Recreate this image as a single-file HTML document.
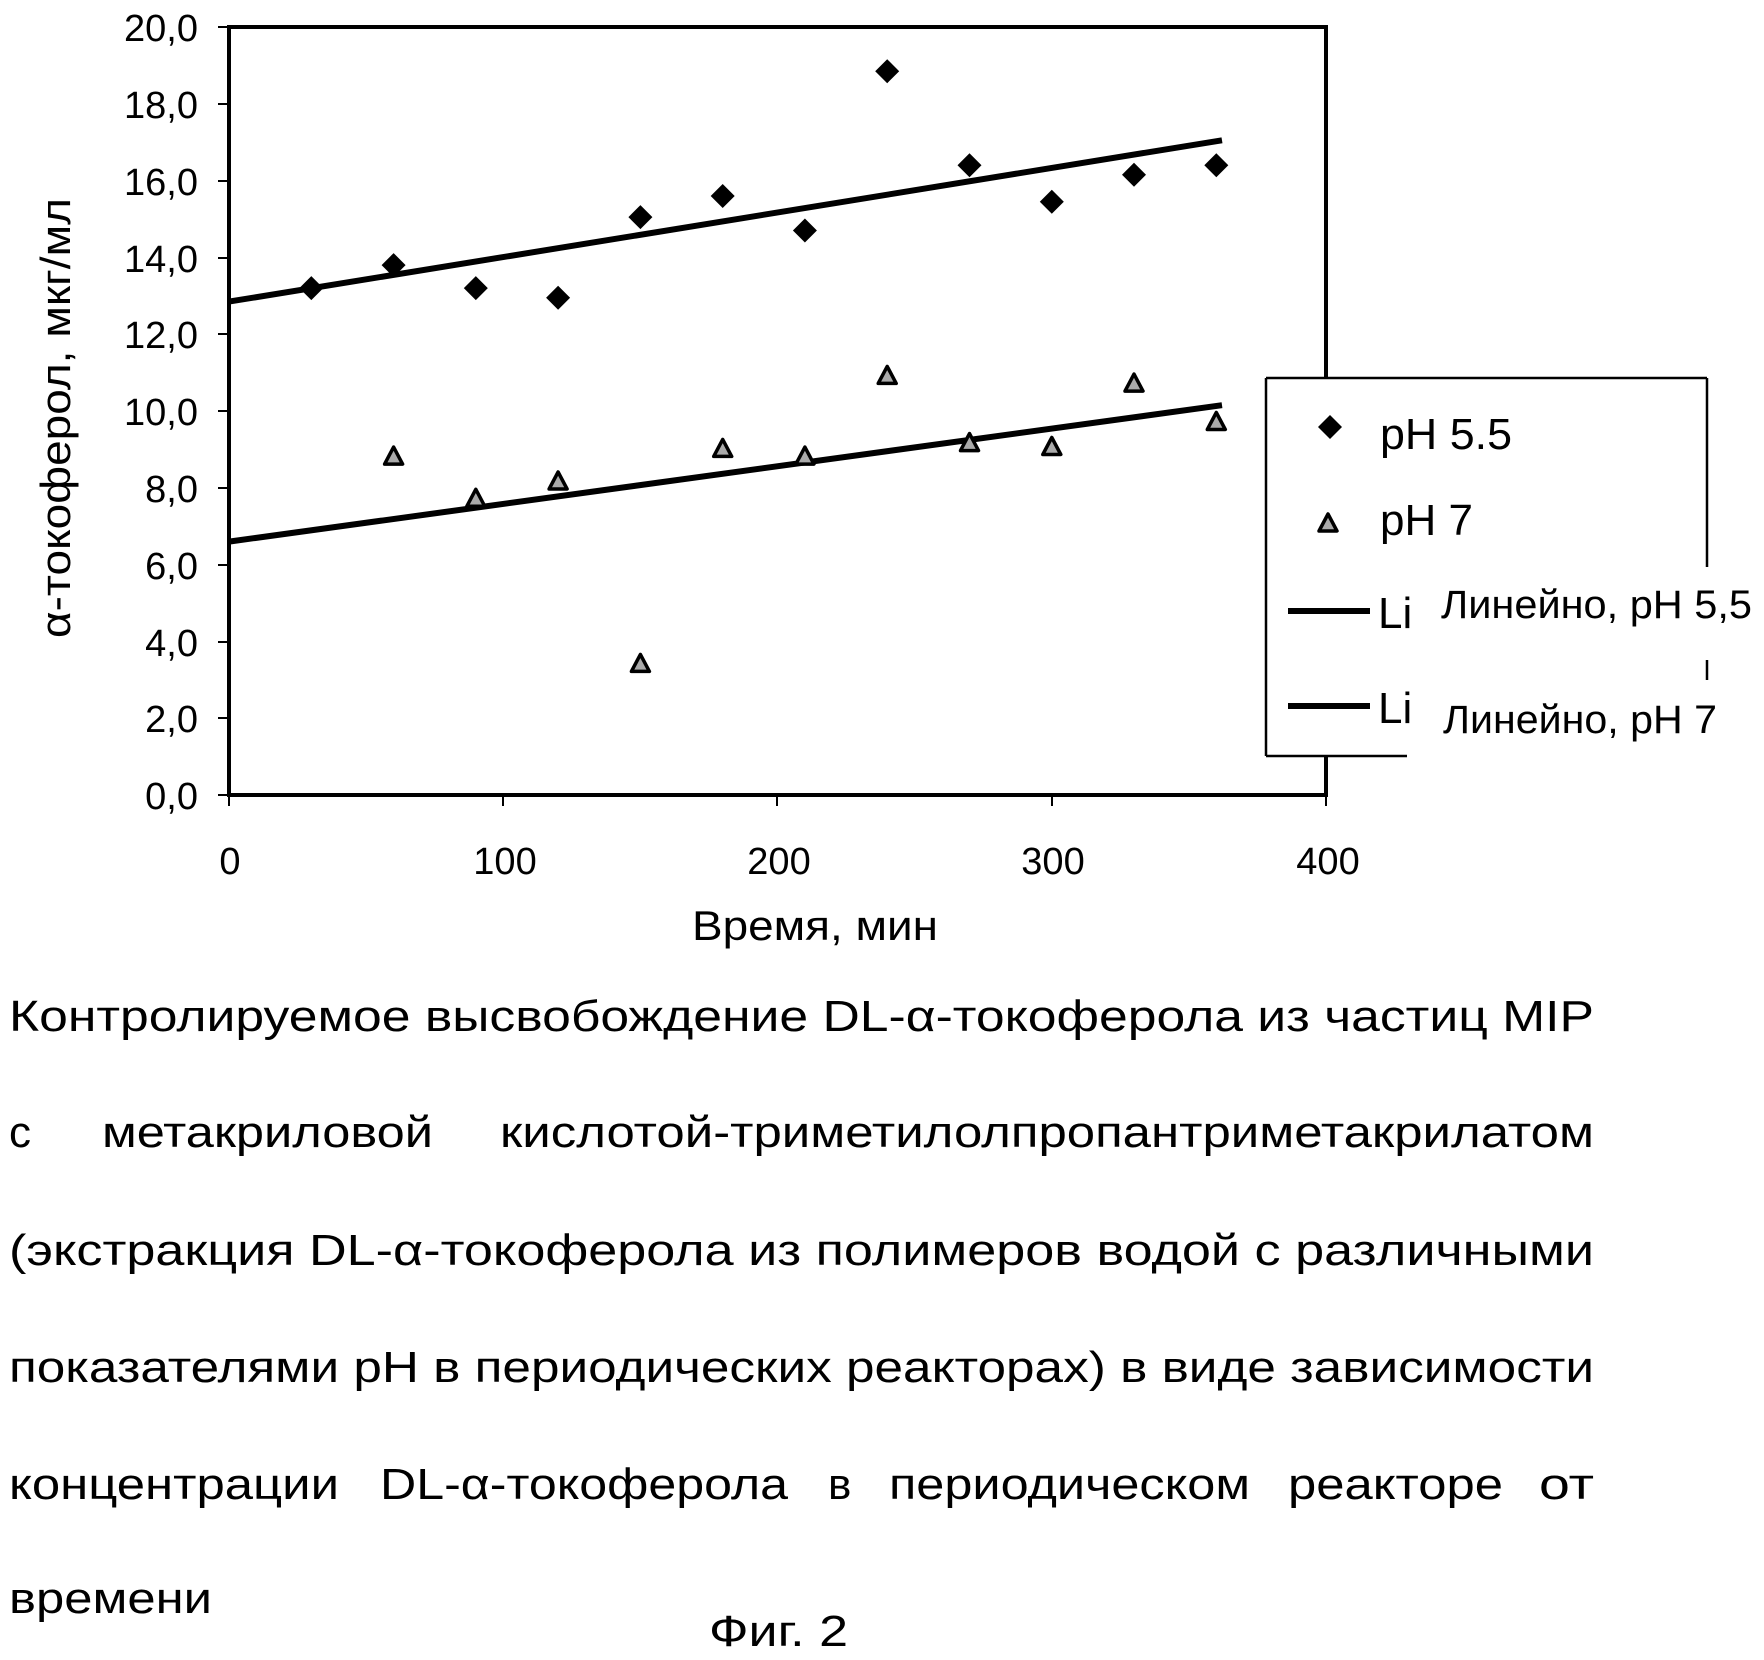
<!DOCTYPE html>
<html><head><meta charset="utf-8"><style>html,body{margin:0;padding:0;background:#fff}svg{display:block}</style></head>
<body>
<svg width="1764" height="1660" viewBox="0 0 1764 1660" xmlns="http://www.w3.org/2000/svg" font-family="Liberation Sans, Arial, sans-serif" fill="#000">
<defs>
<path id="d" d="M0,-12 L12,0 L0,12 L-12,0 Z" fill="#000"/>
<path id="t" d="M0,-10 L9,7 L-9,7 Z" fill="#aaa" stroke="#000" stroke-width="3.5" stroke-linejoin="round"/>
</defs>
<g stroke="#000" stroke-width="4" fill="none">
<line x1="229" y1="26" x2="229" y2="797"/>
<line x1="227" y1="795" x2="1327" y2="795"/>
<line x1="227" y1="27" x2="1327" y2="27"/>
<line x1="1326" y1="25" x2="1326" y2="378"/>
<line x1="1326" y1="756" x2="1326" y2="797"/>
</g>
<g stroke="#000" stroke-width="2">
<line x1="218" y1="27" x2="229" y2="27"/><line x1="218" y1="104" x2="229" y2="104"/><line x1="218" y1="181" x2="229" y2="181"/><line x1="218" y1="258" x2="229" y2="258"/><line x1="218" y1="334" x2="229" y2="334"/><line x1="218" y1="411" x2="229" y2="411"/><line x1="218" y1="488" x2="229" y2="488"/><line x1="218" y1="565" x2="229" y2="565"/><line x1="218" y1="642" x2="229" y2="642"/><line x1="218" y1="718" x2="229" y2="718"/><line x1="218" y1="795" x2="229" y2="795"/>
<line x1="229" y1="795" x2="229" y2="806"/><line x1="503" y1="795" x2="503" y2="806"/><line x1="777" y1="795" x2="777" y2="806"/><line x1="1052" y1="795" x2="1052" y2="806"/><line x1="1326" y1="795" x2="1326" y2="806"/>
</g>
<g font-size="38" text-anchor="end">
<text x="198" y="41">20,0</text><text x="198" y="118">18,0</text><text x="198" y="195">16,0</text><text x="198" y="272">14,0</text><text x="198" y="348">12,0</text><text x="198" y="425">10,0</text><text x="198" y="502">8,0</text><text x="198" y="579">6,0</text><text x="198" y="656">4,0</text><text x="198" y="732">2,0</text><text x="198" y="809">0,0</text>
</g>
<g font-size="38" text-anchor="middle">
<text x="230" y="874">0</text><text x="505" y="874">100</text><text x="779" y="874">200</text><text x="1053" y="874">300</text><text x="1328" y="874">400</text>
</g>
<text x="815" y="940" font-size="42" text-anchor="middle" textLength="246" lengthAdjust="spacingAndGlyphs">Время, мин</text>
<text transform="translate(70,418) rotate(-90)" font-size="42" text-anchor="middle" textLength="440" lengthAdjust="spacingAndGlyphs">α-токоферол, мкг/мл</text>
<line x1="229" y1="301.6" x2="1222" y2="140.3" stroke="#000" stroke-width="6"/>
<line x1="229" y1="541.6" x2="1222" y2="405.2" stroke="#000" stroke-width="6"/>
<use href="#d" x="311.3" y="288.1"/><use href="#d" x="393.6" y="265.1"/><use href="#d" x="475.8" y="288.1"/><use href="#d" x="558.1" y="297.7"/><use href="#d" x="640.4" y="217.1"/><use href="#d" x="722.7" y="196"/><use href="#d" x="804.9" y="230.5"/><use href="#d" x="887.2" y="71.2"/><use href="#d" x="969.5" y="165.2"/><use href="#d" x="1051.8" y="201.7"/><use href="#d" x="1134" y="174.8"/><use href="#d" x="1216.3" y="165.2"/>
<use href="#t" x="393.6" y="457.1"/><use href="#t" x="475.8" y="499.3"/><use href="#t" x="558.1" y="482"/><use href="#t" x="640.4" y="664.4"/><use href="#t" x="722.7" y="449.4"/><use href="#t" x="804.9" y="457.1"/><use href="#t" x="887.2" y="376.4"/><use href="#t" x="969.5" y="443.6"/><use href="#t" x="1051.8" y="447.5"/><use href="#t" x="1134" y="384.1"/><use href="#t" x="1216.3" y="422.5"/>
<rect x="1266" y="378" width="142" height="378" fill="#fff"/>
<rect x="1408" y="378" width="299" height="190" fill="#fff"/>
<g stroke="#000" stroke-width="2.5" fill="none">
<line x1="1266" y1="378" x2="1707" y2="378"/>
<line x1="1266" y1="378" x2="1266" y2="756"/>
<line x1="1707" y1="378" x2="1707" y2="567"/>
<line x1="1266" y1="756" x2="1407" y2="756"/>
<line x1="1707" y1="660" x2="1707" y2="680"/>
</g>
<use href="#d" x="1330" y="427"/>
<text x="1380" y="449" font-size="44" textLength="132" lengthAdjust="spacingAndGlyphs">pH 5.5</text>
<use href="#t" x="1328" y="524"/>
<text x="1380" y="535" font-size="44">pH 7</text>
<line x1="1288" y1="611" x2="1370" y2="611" stroke="#000" stroke-width="6"/>
<text x="1378" y="628" font-size="44">Li</text>
<text x="1441" y="618" font-size="40" textLength="311" lengthAdjust="spacingAndGlyphs">Линейно, pH 5,5</text>
<line x1="1288" y1="706" x2="1370" y2="706" stroke="#000" stroke-width="6"/>
<text x="1378" y="723" font-size="44">Li</text>
<text x="1443" y="733" font-size="40" textLength="274" lengthAdjust="spacingAndGlyphs">Линейно, pH 7</text>
<g font-size="44">
<text x="9" y="1031" textLength="1585" lengthAdjust="spacingAndGlyphs">Контролируемое высвобождение DL-α-токоферола из частиц MIP</text>
<text x="9" y="1147">с</text>
<text x="102" y="1147" textLength="331" lengthAdjust="spacingAndGlyphs">метакриловой</text>
<text x="500" y="1147" textLength="1094" lengthAdjust="spacingAndGlyphs">кислотой-триметилолпропантриметакрилатом</text>
<text x="9" y="1265" textLength="1585" lengthAdjust="spacingAndGlyphs">(экстракция DL-α-токоферола из полимеров водой с различными</text>
<text x="9" y="1382" textLength="1585" lengthAdjust="spacingAndGlyphs">показателями pH в периодических реакторах) в виде зависимости</text>
<text x="9" y="1499" textLength="330" lengthAdjust="spacingAndGlyphs">концентрации</text>
<text x="380" y="1499" textLength="408" lengthAdjust="spacingAndGlyphs">DL-α-токоферола</text>
<text x="828" y="1499">в</text>
<text x="889" y="1499" textLength="361" lengthAdjust="spacingAndGlyphs">периодическом</text>
<text x="1288" y="1499" textLength="215" lengthAdjust="spacingAndGlyphs">реакторе</text>
<text x="1539" y="1499" textLength="55" lengthAdjust="spacingAndGlyphs">от</text>
<text x="9" y="1613" textLength="203" lengthAdjust="spacingAndGlyphs">времени</text>
<text x="709" y="1646" textLength="139" lengthAdjust="spacingAndGlyphs">Фиг. 2</text>
</g>
</svg>
</body></html>
